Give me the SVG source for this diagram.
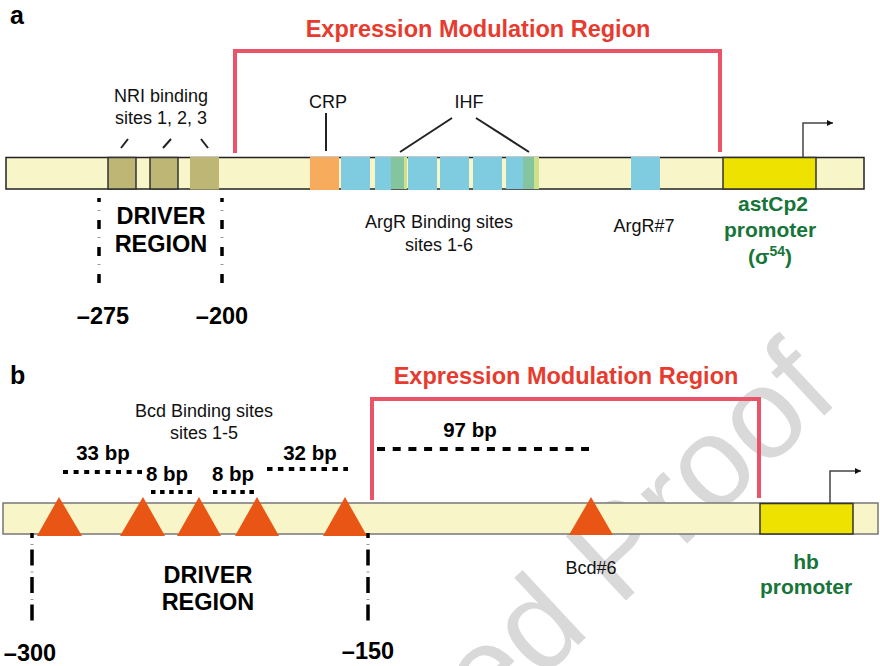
<svg xmlns="http://www.w3.org/2000/svg" width="880" height="666" viewBox="0 0 880 666">
<defs>
<marker id="arr" viewBox="0 0 10 10" refX="10" refY="5" markerWidth="8" markerHeight="6" markerUnits="userSpaceOnUse" orient="auto">
<path d="M0,0 L10,5 L0,10 z" fill="#111"/>
</marker>
<style>
text { font-family: "Liberation Sans", Arial, Helvetica, sans-serif; }
.lbl { font-size:18px; fill:#111; text-anchor:middle; }
.big { font-size:23.5px; font-weight:bold; fill:#000; text-anchor:middle; }
.red { font-size:23.5px; font-weight:bold; fill:#E63B2E; text-anchor:middle; }
.grn { font-size:21px; font-weight:bold; fill:#17753A; text-anchor:middle; }
.bp { font-size:20.5px; font-weight:bold; fill:#000; text-anchor:middle; }
.panel { font-size:25px; font-weight:bold; fill:#000; }
.bar { fill:#F8F5C8; }
.olive { fill:#BDB675; }
.blue { fill:#7FCCE0; }
.green { fill:#84C49E; }
.lgreen { fill:#CDE08A; }
.prom { fill:#EEE200; stroke:#333; stroke-width:1.5; }
.tri { fill:#E95514; }
.brk { fill:none; stroke:#EA5468; stroke-width:4; }
.lead { fill:none; stroke:#222; stroke-width:2; }
.tss { fill:none; stroke:#444; stroke-width:1.5; marker-end:url(#arr); }
.vdash { stroke:#000; stroke-width:3.5; fill:none; }
.vdot { stroke:#999; stroke-width:3; fill:none; }
.hdot { stroke:#000; stroke-width:3.8; fill:none; }
.wm { font-size:128px; fill:#D9D9D9; }
</style>
</defs>

<g id="watermark">
<text class="wm" transform="translate(488,729) rotate(-43)">ed Proof</text>
</g>

<!-- Panel a -->
<g id="panel-a-label"><text class="panel" x="10" y="24">a</text></g>

<g id="bar-a">
<rect class="bar" x="6" y="157.5" width="858" height="31.5" stroke="#222" stroke-width="1.5"/>
</g>
<g id="nri-sites">
<rect class="olive" x="108" y="157.5" width="28" height="31.5" stroke="#333" stroke-width="1.5"/>
<rect class="olive" x="150" y="157.5" width="28" height="31.5" stroke="#333" stroke-width="1.5"/>
<rect class="olive" x="190" y="157" width="29" height="32.5"/>
<text class="lbl" x="161" y="102">NRI binding</text>
<text class="lbl" x="161" y="124">sites 1, 2, 3</text>
</g>
<g id="crp-site">
<rect fill="#F6AC5C" x="310" y="157" width="29" height="33"/>
<text class="lbl" x="328" y="108">CRP</text>
</g>
<g id="argr-sites">
<rect class="blue" x="341" y="157" width="29" height="33"/>
<rect class="blue" x="375" y="157" width="16" height="33"/>
<rect class="green" x="391" y="157" width="13" height="32"/>
<rect class="lgreen" x="404" y="157" width="3" height="32"/>
<rect class="blue" x="408" y="157" width="29" height="33"/>
<rect class="blue" x="440" y="157" width="29" height="33"/>
<rect class="blue" x="473" y="157" width="29" height="33"/>
<rect class="blue" x="506" y="157" width="17" height="32"/>
<rect class="green" x="523" y="157" width="11" height="32"/>
<rect class="lgreen" x="534" y="157" width="5" height="32"/>
<text class="lbl" x="439" y="228">ArgR Binding sites</text>
<text class="lbl" x="439" y="251">sites 1-6</text>
</g>
<g id="ihf-label"><text class="lbl" x="469" y="108">IHF</text></g>
<g id="argr7">
<rect class="blue" x="631" y="157" width="29" height="33"/>
<text class="lbl" x="644" y="232">ArgR#7</text>
</g>
<g id="astCp2-promoter">
<rect class="prom" x="723" y="157.5" width="93" height="31.5"/>
<text class="grn" x="773" y="211">astCp2</text>
<text class="grn" x="770" y="237">promoter</text>
<text class="grn" x="770" y="264">(σ<tspan dy="-8" font-size="14">54</tspan><tspan dy="8">)</tspan></text>
</g>
<g id="driver-a">
<text class="big" x="161" y="224">DRIVER</text>
<text class="big" x="161" y="252">REGION</text>
<text class="big" x="103" y="324">–275</text>
<text class="big" x="222" y="324">–200</text>
</g>
<g id="emr-a"><text class="red" x="478" y="37">Expression Modulation Region</text></g>

<!-- Panel b -->
<g id="panel-b-label"><text class="panel" x="10" y="384">b</text></g>
<g id="bar-b">
<rect class="bar" x="3" y="503" width="875" height="31" stroke="#777" stroke-width="1.5"/>
</g>
<g id="bcd-sites">
<polygon class="tri" points="59,497 37,536 82,536"/>
<polygon class="tri" points="143,497 120,536 165,536"/>
<polygon class="tri" points="199,497 177,536 221,536"/>
<polygon class="tri" points="257,497 235,536 279,536"/>
<polygon class="tri" points="345,497 323,536 367,536"/>
<text class="lbl" x="204" y="417">Bcd Binding sites</text>
<text class="lbl" x="204" y="439">sites 1-5</text>
</g>
<g id="bcd6">
<polygon class="tri" points="591,497 569,535 613,535"/>
<text class="lbl" x="591" y="574">Bcd#6</text>
</g>
<g id="hb-promoter">
<rect class="prom" x="760" y="503.5" width="93" height="30.5"/>
<text class="grn" x="806" y="569">hb</text>
<text class="grn" x="806" y="594">promoter</text>
</g>
<g id="spacings">
<text class="bp" x="103" y="460">33 bp</text>
<text class="bp" x="167" y="481">8 bp</text>
<text class="bp" x="233" y="481">8 bp</text>
<text class="bp" x="310" y="460">32 bp</text>
<text class="bp" x="470" y="437">97 bp</text>
</g>
<g id="driver-b">
<text class="big" x="208" y="583">DRIVER</text>
<text class="big" x="208" y="610">REGION</text>
<text class="big" x="30" y="661">–300</text>
<text class="big" x="368" y="659">–150</text>
</g>
<g id="emr-b"><text class="red" x="566" y="384">Expression Modulation Region</text></g>

<g id="connectors">
<!-- panel a -->
<line class="lead" x1="121" y1="148" x2="128" y2="139"/>
<line class="lead" x1="163" y1="148" x2="171" y2="139"/>
<line class="lead" x1="201" y1="139" x2="208" y2="148"/>
<line class="lead" x1="326" y1="113" x2="326" y2="151" stroke-width="2.5"/>
<line class="lead" x1="452" y1="118" x2="400" y2="152"/>
<line class="lead" x1="476" y1="118" x2="529" y2="152"/>
<path class="brk" d="M235,153 V51 H720 V152"/>
<path class="tss" d="M803,157 V123 H833"/>
<line class="vdot" x1="99" y1="198" x2="99" y2="284" stroke-dasharray="1 26" stroke-dashoffset="-12"/>
<line class="vdash" x1="99" y1="198" x2="99" y2="284" stroke-dasharray="9 18" stroke-dashoffset="5"/>
<line class="vdot" x1="222" y1="198" x2="222" y2="284" stroke-dasharray="1 26" stroke-dashoffset="-12"/>
<line class="vdash" x1="222" y1="198" x2="222" y2="284" stroke-dasharray="9 18" stroke-dashoffset="5"/>
<!-- panel b -->
<path class="brk" d="M372,500 V399 H759 V498"/>
<path class="tss" d="M830,503 V471 H861"/>
<line class="hdot" x1="63" y1="472" x2="142" y2="472" stroke-dasharray="5 5.6"/>
<line class="hdot" x1="151" y1="492" x2="192" y2="492" stroke-dasharray="4.5 4.6"/>
<line class="hdot" x1="213" y1="492" x2="254" y2="492" stroke-dasharray="4.5 4.6"/>
<line class="hdot" x1="267" y1="469" x2="348" y2="469" stroke-dasharray="5.5 5.4"/>
<line class="hdot" x1="377" y1="449" x2="589" y2="449" stroke-dasharray="8 7.7"/>
<line class="vdot" x1="32" y1="533" x2="32" y2="620" stroke-dasharray="1 26.5" stroke-dashoffset="-11"/>
<line class="vdash" x1="32" y1="533" x2="32" y2="621" stroke-dasharray="16 11.5" stroke-dashoffset="11"/>
<line class="vdot" x1="368" y1="533" x2="368" y2="620" stroke-dasharray="1 26.5" stroke-dashoffset="-11"/>
<line class="vdash" x1="368" y1="533" x2="368" y2="621" stroke-dasharray="16 11.5" stroke-dashoffset="11"/>
</g>
</svg>
